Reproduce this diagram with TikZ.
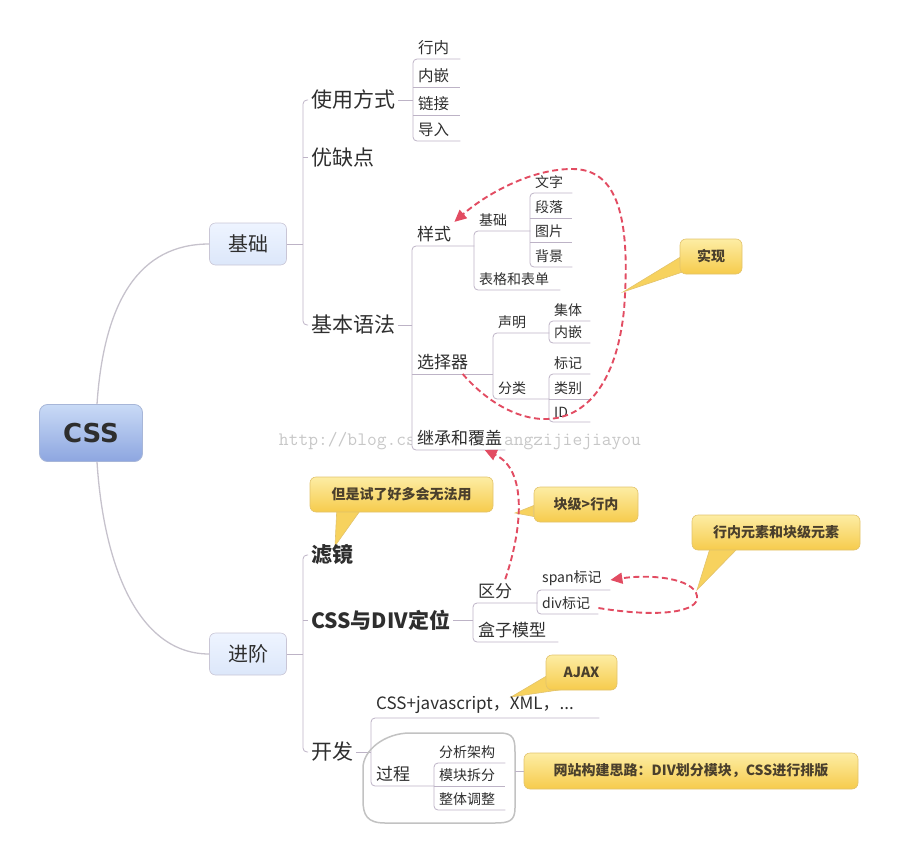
\documentclass[tikz,border=0pt]{standalone}
\usepackage{fontspec}
\setmainfont{Noto Sans CJK SC}
\newfontfamily\rootfont{DejaVu Sans}
\usetikzlibrary{arrows.meta, positioning, backgrounds}
\definecolor{ink}{HTML}{2E2E2E}
\definecolor{linegray}{HTML}{BDB3C6}
\definecolor{trunkgray}{HTML}{C6C2CC}
\definecolor{rootTop}{HTML}{C9DAF6}
\definecolor{rootBot}{HTML}{8DA6E0}
\definecolor{rootLine}{HTML}{A7B6D8}
\definecolor{boxTop}{HTML}{EEF4FF}
\definecolor{boxBot}{HTML}{DCE7FA}
\definecolor{boxLine}{HTML}{C9C6D6}
\definecolor{noteTop}{HTML}{FDEDA4}
\definecolor{noteBot}{HTML}{F6CB4C}
\definecolor{noteLine}{HTML}{E2C36C}
\definecolor{noteText}{HTML}{4A3F2C}
\definecolor{hintred}{HTML}{E24C62}
\definecolor{fencegray}{HTML}{C2C2C2}

\begin{document}
\begin{tikzpicture}[x=1pt, y=-1pt,
    every node/.style={text=ink},
    root/.style={rounded corners=8pt, top color=rootTop, bottom color=rootBot, draw=rootLine, line width=0.8pt, minimum width=103pt, minimum height=57pt, font=\rootfont\bfseries\fontsize{26}{28}\selectfont},
    topicbox/.style={rounded corners=6pt, top color=boxTop, bottom color=boxBot, draw=boxLine, line width=0.6pt, minimum width=77pt, minimum height=42pt, font=\fontsize{20}{22}\selectfont},
    sub1/.style={anchor=west, inner xsep=3pt, font=\fontsize{21}{24}\selectfont},
    leaf/.style={anchor=south west, inner xsep=5pt, inner ysep=4pt, align=left},
    fbig/.style={font=\fontsize{17}{19}\selectfont},
    fmid/.style={font=\fontsize{15.5}{17}\selectfont},
    fsmall/.style={font=\fontsize{14}{16}\selectfont},
    link/.style={draw=linegray, line width=0.8pt},
    trunk/.style={draw=trunkgray, line width=1.3pt},
    note/.style={rounded corners=6pt, top color=noteTop, bottom color=noteBot, draw=noteLine, line width=0.6pt, minimum height=35pt, inner xsep=4pt, text=noteText, font=\bfseries\fontsize{14}{16}\selectfont},
    notetail/.style={fill=noteBot!80!noteTop, draw=noteLine, line width=0.6pt},
    hint/.style={draw=hintred, line width=1.9pt, dash pattern=on 6pt off 3.5pt, -{Triangle[length=12pt, width=11pt]}},
    fence/.style={draw=fencegray, line width=1.5pt},
    wmark/.style={font=\ttfamily\fontsize{19}{20}\selectfont, text=black!22}
]
\useasboundingbox (0,0) rectangle (900,862);

% watermark
\node[wmark] (wm) at (460,441) {http://blog.csdn.net/zhangzijiejiayou};

% Root and main branches
\node[root] (css) at (91,433) {CSS};
\node[topicbox] (jc) at (248,244) {基础};
\node[topicbox] (jj) at (248,654) {进阶};
\draw[trunk] ([xshift=6pt]css.north) .. controls (104,300) and (140,244) .. (jc.west);
\draw[trunk] ([xshift=6pt]css.south) .. controls (104,570) and (140,654) .. (jj.west);

% Level 1
\node[sub1] (syfs) at (308,100) {使用方式};
\node[sub1] (yqd)  at (308,157) {优缺点};
\node[sub1] (jbyf) at (308,325) {基本语法};
\node[sub1, font=\bfseries\fontsize{21}{24}\selectfont] (lj) at (308,555) {滤镜};
\node[sub1, font=\bfseries\fontsize{21}{24}\selectfont] (dw) at (308,620) {CSS与DIV定位};
\node[sub1] (kf)   at (308,752) {开发};
\coordinate (sp1) at (303,244);
\coordinate (sp2) at (303,654);
\draw[link] (jc.east) -- (sp1);
\draw[link, rounded corners=4pt] (syfs.west) -| (sp1) |- (jbyf.west);
\draw[link] (yqd.west) -- (yqd.west -| sp1);
\draw[link] (jj.east) -- (sp2);
\draw[link, rounded corners=4pt] (lj.west) -| (sp2) |- (kf.west);
\draw[link] (dw.west) -- (dw.west -| sp2);

% 使用方式
\node[leaf, fmid, text width=37pt] (hn) at (413,59)  {行内};
\node[leaf, fmid, text width=37pt] (nq) at (413,87)  {内嵌};
\node[leaf, fmid, text width=37pt] (lk) at (413,115) {链接};
\node[leaf, fmid, text width=37pt] (dr) at (413,141) {导入};
\draw[link] (syfs.east) -- (syfs.east -| hn.south west);
\draw[link, rounded corners=4pt] (hn.south east) -- (hn.south west) -- (dr.south west) -- (dr.south east);
\foreach \n in {nq, lk} \draw[link] (\n.south west) -- (\n.south east);

% 基本语法
\node[leaf, fbig, text width=52pt] (ys)  at (412,246) {样式};
\node[leaf, fbig, text width=71pt] (xzq) at (412,374) {选择器};
\node[leaf, fbig, text width=83pt, fill=white] (jcfg) at (412,450) {继承和覆盖};
\draw[link] (jbyf.east) -- (jbyf.east -| ys.south west);
\draw[link, rounded corners=4pt] (ys.south east) -- (ys.south west) -- (jcfg.south west) -- (jcfg.south east);
\draw[link] (xzq.south west) -- (xzq.south east);

% 样式
\node[leaf, fsmall, text width=46pt] (ysjc) at (474,231) {基础};
\node[leaf, fsmall, text width=76pt] (bgbd) at (474,290) {表格和表单};
\draw[link, rounded corners=4pt] (ysjc.south east) -- (ysjc.south west) -- (bgbd.south west) -- (bgbd.south east);
\node[leaf, fsmall, text width=32pt] (wz) at (530,193) {文字};
\node[leaf, fsmall, text width=32pt] (dl) at (530,218) {段落};
\node[leaf, fsmall, text width=32pt] (tp) at (530,242) {图片};
\node[leaf, fsmall, text width=32pt] (bj) at (530,267) {背景};
\draw[link, rounded corners=4pt] (wz.south east) -- (wz.south west) -- (bj.south west) -- (bj.south east);
\foreach \n in {dl, tp} \draw[link] (\n.south west) -- (\n.south east);

% 选择器
\node[leaf, fsmall, text width=46pt] (sm) at (493,333) {声明};
\node[leaf, fsmall, text width=46pt] (fl) at (493,399) {分类};
\draw[link, rounded corners=4pt] (sm.south east) -- (sm.south west) -- (fl.south west) -- (fl.south east);
\node[leaf, fsmall, text width=31pt] (jt)  at (549,321) {集体};
\node[leaf, fsmall, text width=31pt] (nq2) at (549,343) {内嵌};
\draw[link, rounded corners=4pt] (jt.south east) -- (jt.south west) -- (nq2.south west) -- (nq2.south east);
\node[leaf, fsmall, text width=31pt] (bj2) at (549,374) {标记};
\node[leaf, fsmall, text width=31pt] (lb)  at (549,399) {类别};
\node[leaf, fsmall, text width=31pt] (id)  at (549,422) {ID};
\draw[link, rounded corners=4pt] (bj2.south east) -- (bj2.south west) -- (id.south west) -- (id.south east);
\draw[link] (lb.south west) -- (lb.south east);

% CSS与DIV定位
\node[leaf, fbig, text width=54pt] (qf)   at (473,603) {区分};
\node[leaf, fbig, text width=75pt] (hzmx) at (473,642) {盒子模型};
\draw[link] (dw.east) -- (dw.east -| qf.south west);
\draw[link, rounded corners=4pt] (qf.south east) -- (qf.south west) -- (hzmx.south west) -- (hzmx.south east);
\node[leaf, fsmall, text width=63pt] (span) at (537,590) {span标记};
\node[leaf, fsmall, text width=51pt] (div)  at (537,614) {div标记};
\draw[link, rounded corners=4pt] (span.south east) -- (span.south west) -- (div.south west) -- (div.south east);

% 开发
\node[leaf, fbig, text width=218pt] (js) at (371,718) {CSS+javascript，XML，...};
\node[leaf, fbig, text width=53pt]  (gc) at (371,786) {过程};
\draw[link] (kf.east) -- (kf.east -| js.south west);
\draw[link, rounded corners=4pt] (js.south east) -- (js.south west) -- (gc.south west) -- (gc.south east);
\node[leaf, fsmall, text width=61pt] (fx) at (434,763) {分析架构};
\node[leaf, fsmall, text width=61pt] (mk) at (434,786) {模块拆分};
\node[leaf, fsmall, text width=61pt] (zt) at (434,810) {整体调整};
\draw[link, rounded corners=4pt] (fx.south east) -- (fx.south west) -- (zt.south west) -- (zt.south east);
\draw[link] (mk.south west) -- (mk.south east);

% boundary round 过程
\draw[fence] (410,733) -- (500,733) .. controls (514,733) and (515,740) .. (515,752) -- (515,808)
  .. controls (515,821) and (509,823) .. (495,823) -- (385,823) .. controls (367,823) and (363,815) .. (363,800)
  -- (363,768) .. controls (363,750) and (385,733) .. (410,733) -- cycle;
\coordinate (bdr) at (515,771);

% Callouts
\node[note, minimum width=62pt]  (sx)   at (711,256.5) {实现};
\node[note, minimum width=183pt] (dsl)  at (401.5,494.5) {但是试了好多会无法用};
\node[note, minimum width=104pt] (kj)   at (586,504.5) {块级>行内};
\node[note, minimum width=168pt] (ysjb) at (776,532.5) {行内元素和块级元素};
\node[note, minimum width=71pt]  (ajax) at (581.5,672.5) {AJAX};
\node[note, minimum width=334pt, minimum height=36pt] (sl) at (691,771) {网站构建思路：DIV划分模块，CSS进行排版};
\draw[link] (bdr) -- (sl.west);
\coordinate (sxp)   at (623,292);
\coordinate (dslp)  at (335,546);
\coordinate (kjp)   at (515,513);
\coordinate (ysjbp) at (697,590);
\coordinate (ajaxp) at (511,697);
\begin{scope}[on background layer]
\draw[notetail] ([yshift=-1pt]sx.west) -- (sxp) -- ([xshift=5pt,yshift=3pt]sx.south west) -- cycle;
\draw[notetail] ([xshift=27pt,yshift=1pt]dsl.south west) -- (dslp) -- ([xshift=50pt,yshift=1pt]dsl.south west) -- cycle;
\draw[notetail] ([yshift=-1pt]kj.west) -- (kjp) -- ([yshift=-12pt]kj.west) -- cycle;
\draw[notetail] ([xshift=18pt,yshift=1pt]ysjb.south west) -- (ysjbp) -- ([xshift=45pt,yshift=1pt]ysjb.south west) -- cycle;
\draw[notetail] ([yshift=-4pt]ajax.west) -- (ajaxp) -- ([xshift=18pt,yshift=1pt]ajax.south west) -- cycle;
\end{scope}

% Red dashed relations
\draw[hint] ([xshift=10pt]xzq.south) .. controls (520,440) and (610,445) .. (624,310)
  .. controls (632,205) and (612,169) .. (572,169) .. controls (530,169) and (485,195) .. ([xshift=-20pt]ys.north east);
\draw[hint] (qf.north) .. controls (522,530) and (528,470) .. ([xshift=26pt]jcfg.south);
\draw[hint] ([yshift=6pt]div.south east) .. controls (660,618) and (700,612) .. (697,596)
  .. controls (694,578) and (650,574) .. ([yshift=10pt]span.south east);
\end{tikzpicture}
\end{document}
